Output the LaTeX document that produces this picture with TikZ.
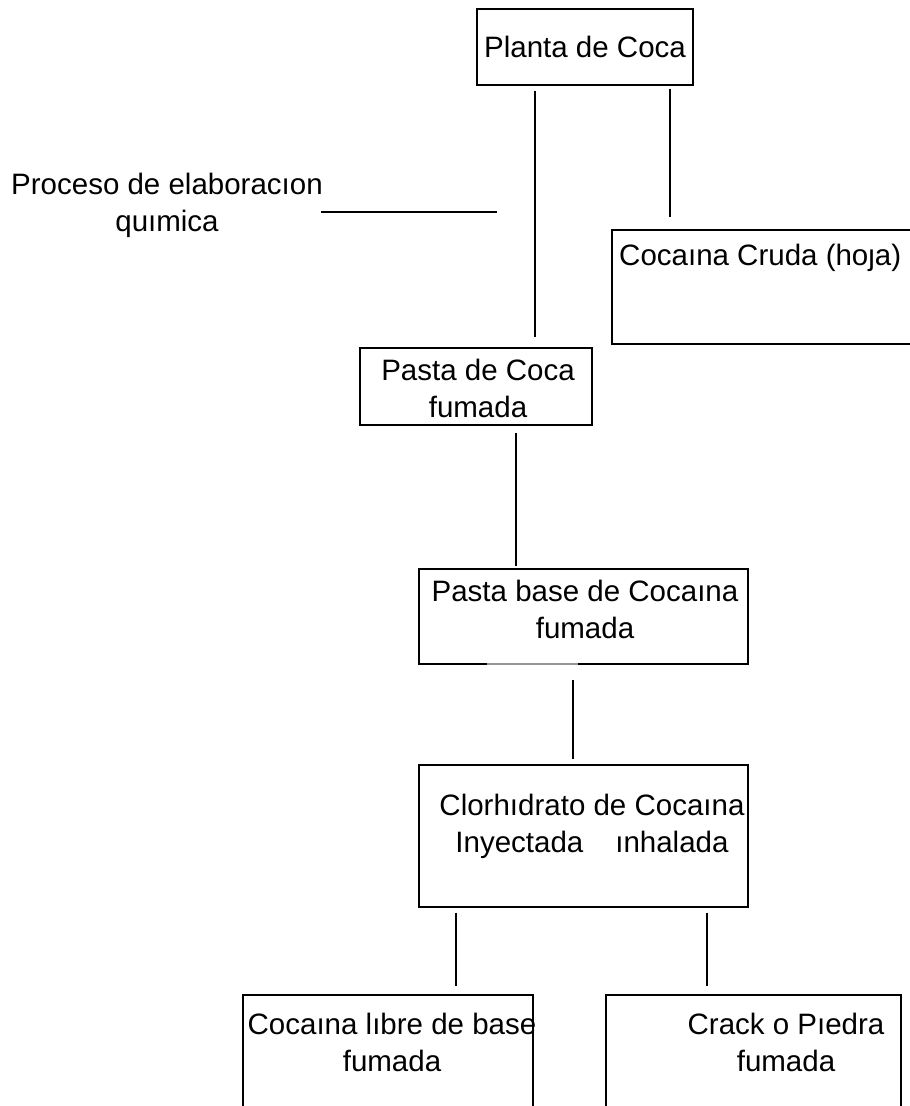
\documentclass[tikz,border=0pt]{standalone}
\usepackage{fontspec}
\setmainfont{Liberation Sans}
\usetikzlibrary{positioning}
\definecolor{boxline}{RGB}{0,0,0}
\definecolor{smudge}{RGB}{150,150,150}

\begin{document}
\begin{tikzpicture}[x=1pt, y=-1pt,
  every node/.style={font=\fontsize{29.5}{37}\selectfont},
  %% Box style
  stagebox/.style={draw=boxline, line width=1.3pt, inner sep=0pt},
  %% Text style
  stagetxt/.style={align=center, inner sep=0pt},
  %% Link style
  link/.style={draw=boxline, line width=1.3pt},
]
\useasboundingbox (0,0) rectangle (910,1106);

%% =============================================================
%%  Boxes
%% =============================================================
\node[stagebox, minimum width=216, minimum height=76]  (planta) at (585,47)     {};
\node[stagebox, minimum width=340, minimum height=114] (cruda)  at (782,287)    {};
\node[stagebox, minimum width=232, minimum height=77]  (pasta)  at (476,386.5)  {};
\node[stagebox, minimum width=329, minimum height=95]  (pbase)  at (583.5,616.5) {};
\node[stagebox, minimum width=329, minimum height=142] (cloro)  at (583.5,836)  {};
\node[stagebox, minimum width=290, minimum height=145] (libre)  at (388,1067.5) {};
\node[stagebox, minimum width=295, minimum height=145] (crack)  at (753.5,1067.5) {};

%% smudge on the lower edge of the base box
\draw[smudge, line width=2pt] (487,664) -- (578,664);

%% =============================================================
%%  Texts
%% =============================================================
\node[stagetxt] (tplanta) at (585,47) {Planta de Coca};
\node[stagetxt, anchor=west] (tcruda) at (619,258) {Cocaına Cruda (hoȷa)};
\node[stagetxt] (tpasta) at (478,388) {Pasta de Coca\\fumada\hspace{8pt}};
\node[stagetxt] (tpbase) at (585,609) {Pasta base de Cocaına\\fumada};
\node[stagetxt] (tcloro) at (592,826) {Clorhıdrato de Cocaına\\Inyectada\hspace{32pt}ınhalada\hspace{10pt}};
\node[stagetxt] (tlibre) at (392,1042) {Cocaına lıbre de base\\fumada\hspace{8pt}};
\node[stagetxt] (tcrack) at (786,1042) {Crack o Pıedra\\fumada};
\node[stagetxt] (proceso) at (167,205) {Proceso de elaboracıon\\quımica};

%% =============================================================
%%  Links
%% =============================================================
\draw[link, shorten <=5pt, shorten >=10pt]
  ([xshift=-50pt]planta.south) -- ([xshift=59pt]pasta.north);
\draw[link, shorten <=3pt, shorten >=12pt]
  ([xshift=85pt]planta.south) -- ([xshift=-112pt]cruda.north);
\draw[link, shorten <=7pt, shorten >=2pt]
  ([xshift=40pt]pasta.south) -- ([xshift=-67.5pt]pbase.north);
\draw[link, shorten <=15pt, shorten >=5pt]
  ([xshift=-10.5pt]pbase.south) -- ([xshift=-10.5pt]cloro.north);
\draw[link, shorten <=5pt, shorten >=8pt]
  ([xshift=-127.5pt]cloro.south) -- ([xshift=68pt]libre.north);
\draw[link, shorten <=5pt, shorten >=8pt]
  ([xshift=123.5pt]cloro.south) -- ([xshift=-46.5pt]crack.north);

%% pointer from the process label
\coordinate (ptip) at (497,212);
\draw[link] ([xshift=-2pt]proceso.east |- ptip) -- (ptip);

\end{tikzpicture}
\end{document}
